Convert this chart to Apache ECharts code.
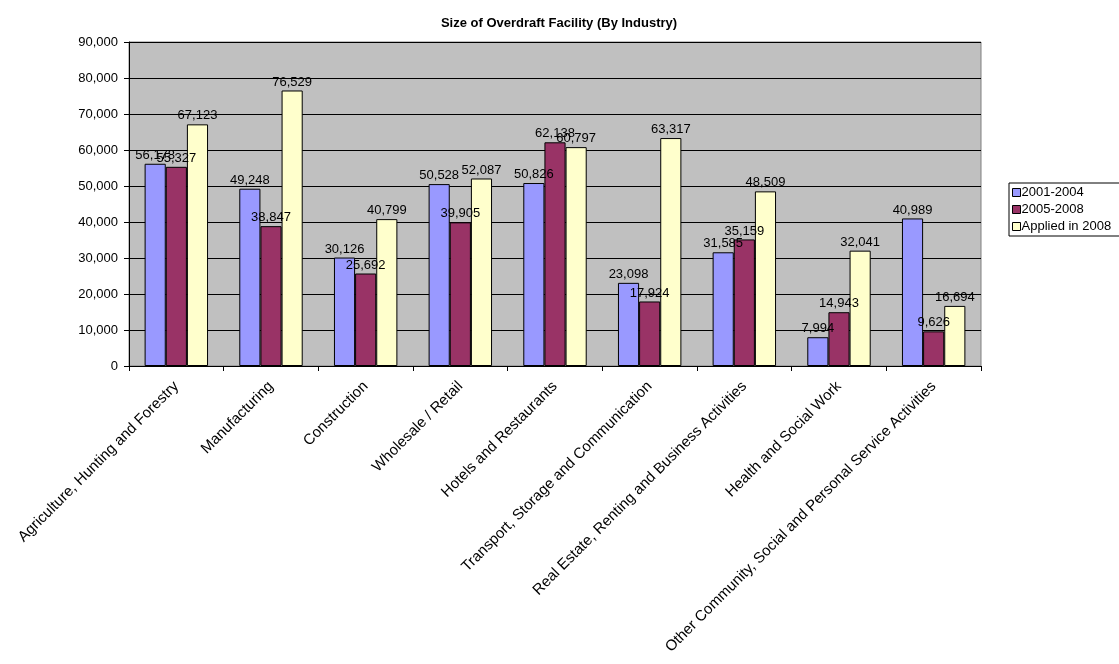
<!doctype html>
<html>
<head>
  <meta charset="utf-8">
  <script src="https://cdn.jsdelivr.net/npm/echarts@6/dist/echarts.min.js"></script>
  <style>
    html, body { margin: 0; padding: 0; background: #fff; }
    #chart { width: 1119px; height: 664px; }
  </style>
</head>
<body>
  <div id="chart"></div>
  <script type="text/javascript">
    var categories = ['Agriculture, Hunting and Forestry', 'Manufacturing', 'Construction', 'Wholesale / Retail',
      'Hotels and Restaurants', 'Transport, Storage and Communication', 'Real Estate, Renting and Business Activities',
      'Health and Social Work', 'Other Community, Social and Personal Service Activities'];
    var s2001 = [56178, 49248, 30126, 50528, 50826, 23098, 31585, 7994, 40989];
    var s2005 = [55327, 38847, 25692, 39905, 62138, 17924, 35159, 14943, 9626];
    var sApplied = [67123, 76529, 40799, 52087, 60797, 63317, 48509, 32041, 16694];
    var seriesNames = ['2001-2004', '2005-2008', 'Applied in 2008'];
    var colors = ['#9999ff', '#993366', '#ffffcc'];

    function fmt(v) {
      return v.toString().replace(/\B(?=(\d{3})+(?!\d))/g, ',');
    }

    function makeSeries(name, data) {
      return {
        name: name,
        type: 'bar',
        data: data,
        barGap: '0%',
        barCategoryGap: '33%',
        itemStyle: { borderColor: '#000', borderWidth: 1 },
        label: {
          show: true,
          position: 'top',
          distance: 2,
          color: '#000',
          fontSize: 13,
          fontFamily: 'Liberation Sans, Arial',
          formatter: function (p) { return fmt(p.value); }
        }
      };
    }

    var myChart = echarts.init(document.getElementById('chart'));
    var option = {
      animation: false,
      color: colors,
      textStyle: { fontFamily: 'Liberation Sans, Arial' },
      title: {
        text: 'Size of Overdraft Facility (By Industry)',
        left: 554,
        textAlign: 'center',
        top: 12,
        textStyle: { fontSize: 13, fontWeight: 'bold', color: '#000', fontFamily: 'Liberation Sans, Arial' }
      },
      legend: {
        orient: 'vertical',
        left: 1009,
        top: 183,
        padding: [3, 10, 3, 3],
        itemGap: 4,
        itemWidth: 8,
        itemHeight: 8,
        icon: 'rect',
        backgroundColor: '#fff',
        borderColor: '#000',
        borderWidth: 1,
        itemStyle: { borderColor: '#000', borderWidth: 1 },
        textStyle: { fontSize: 13, color: '#000', padding: [0, 0, 0, -4] },
        data: seriesNames
      },
      grid: {
        left: 129,
        right: 138,
        top: 42,
        bottom: 298,
        show: true,
        backgroundColor: '#c0c0c0',
        borderColor: '#808080',
        borderWidth: 1
      },
      xAxis: {
        type: 'category',
        data: categories,
        axisLine: { lineStyle: { color: '#000' } },
        axisTick: { show: true, length: 5, lineStyle: { color: '#000' } },
        axisLabel: { interval: 0, rotate: 45, fontSize: 15, color: '#000', margin: 18 }
      },
      yAxis: {
        type: 'value',
        min: 0,
        max: 90000,
        interval: 10000,
        axisLine: { show: true, lineStyle: { color: '#000' } },
        axisTick: { show: true, length: 5, lineStyle: { color: '#000' } },
        splitLine: { lineStyle: { color: '#000' } },
        axisLabel: { fontSize: 13, color: '#000', margin: 11, formatter: function (v) { return fmt(v); } }
      },
      series: [
        makeSeries(seriesNames[0], s2001),
        makeSeries(seriesNames[1], s2005),
        makeSeries(seriesNames[2], sApplied)
      ]
    };
    myChart.setOption(option);
  </script>
</body>
</html>
